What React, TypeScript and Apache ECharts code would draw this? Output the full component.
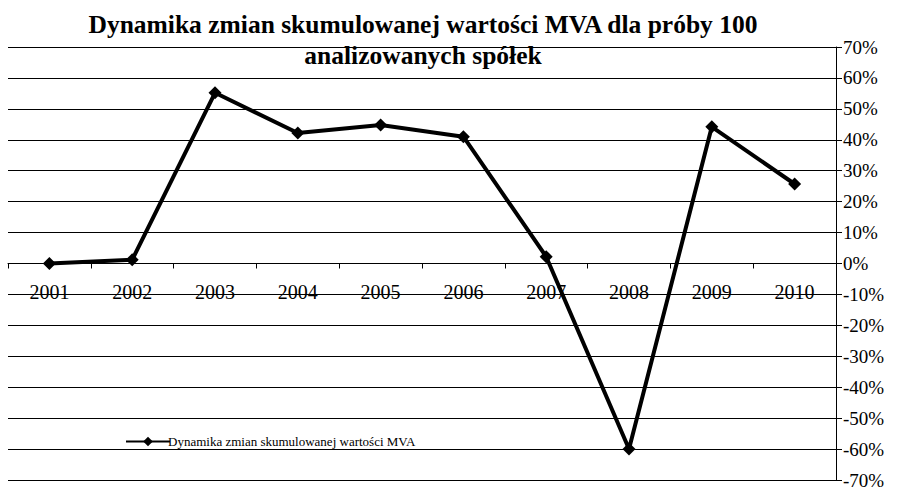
import React, { useEffect, useRef } from "react";
import * as echarts from "echarts";

const categories = ["2001", "2002", "2003", "2004", "2005", "2006", "2007", "2008", "2009", "2010"];
const mvaValues = [0, 1.2, 55.2, 42.2, 44.8, 41, 2.2, -60, 44.2, 25.7];
const seriesName = "Dynamika zmian skumulowanej wartości MVA";
const titleText = "Dynamika zmian skumulowanej wartości MVA dla próby 100\nanalizowanych spółek";

export default function App() {
  const ref = useRef<HTMLDivElement>(null);
  useEffect(() => {
    if (!ref.current) return;
    const chart = echarts.init(ref.current, null, { renderer: "svg" });
    const font = "'Liberation Serif', 'Times New Roman', serif";
    chart.setOption({
      animation: false,
      backgroundColor: "#ffffff",
      title: {
        text: titleText,
        left: 418,
        textAlign: "center",
        top: 4,
        textStyle: { fontFamily: font, fontSize: 25.5, fontWeight: "bold", color: "#000", lineHeight: 31 },
      },
      legend: {
        show: true,
        left: 120,
        top: 430,
        itemWidth: 44,
        itemHeight: 12,
        itemGap: 2,
        textStyle: { fontFamily: font, fontSize: 13, color: "#000", padding: [0, 0, 0, -7] },
        data: [seriesName],
      },
      grid: { left: 8, right: 69, top: 47, bottom: 9, containLabel: false, outerBoundsMode: "none" },
      xAxis: {
        type: "category",
        data: categories,
        boundaryGap: true,
        position: "bottom",
        offset: -216.5,
        axisLine: { onZero: false, lineStyle: { color: "#000", width: 1 } },
        axisTick: { show: true, length: 5, lineStyle: { color: "#000" } },
        axisLabel: { fontFamily: font, fontSize: 20, color: "#000", margin: 18 },
        splitLine: { show: false },
      },
      yAxis: {
        type: "value",
        position: "right",
        min: -70,
        max: 70,
        interval: 10,
        axisLine: { show: true, lineStyle: { color: "#000", width: 1 } },
        axisTick: { show: true, length: 6, lineStyle: { color: "#000" } },
        axisLabel: { fontFamily: font, fontSize: 19, color: "#000", margin: 7, formatter: (v: number) => v + "%" },
        splitLine: { show: true, lineStyle: { color: "#000", width: 1 } },
      },
      series: [
        {
          name: seriesName,
          type: "line",
          data: mvaValues,
          symbol: "diamond",
          symbolSize: 13,
          lineStyle: { color: "#000", width: 4 },
          itemStyle: { color: "#000" },
        },
      ],
    });
    return () => chart.dispose();
  }, []);
  return <div ref={ref} style={{ width: 905, height: 489, position: "absolute", left: 0, top: 0 }} />;
}
